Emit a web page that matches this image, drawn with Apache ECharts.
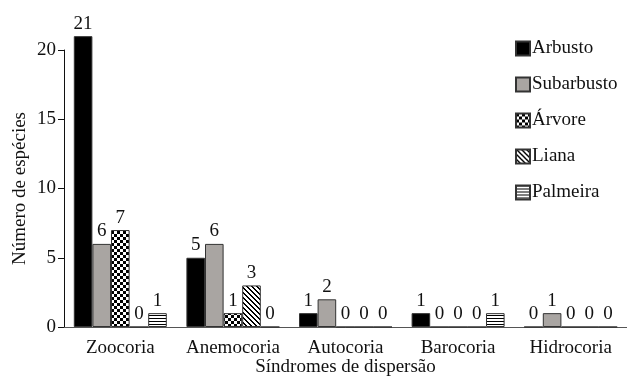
<!DOCTYPE html>
<html><head><meta charset="utf-8">
<script src="https://cdn.jsdelivr.net/npm/echarts@6/dist/echarts.min.js"></script>
<style>html,body{margin:0;padding:0;background:#fff}#c{width:627px;height:378px}</style>
</head><body><div id="c"></div>
<script>
const categories = ['Zoocoria', 'Anemocoria', 'Autocoria', 'Barocoria', 'Hidrocoria'];
const arbusto = [21, 5, 1, 1, 0];
const subarbusto = [6, 6, 2, 0, 1];
const arvore = [7, 1, 0, 0, 0];
const liana = [0, 3, 0, 0, 0];
const palmeira = [1, 0, 0, 1, 0];
const yTicks = [0, 5, 10, 15, 20];

function mk(w, h, draw) {
  const c = document.createElement('canvas'); c.width = w; c.height = h;
  const g = c.getContext('2d'); g.fillStyle = '#fff'; g.fillRect(0, 0, w, h); draw(g); return c;
}
const checker = mk(6, 6, g => { g.fillStyle = '#000'; g.fillRect(0,0,3,3); g.fillRect(3,3,3,3); });
const diag = mk(5, 5, g => { g.fillStyle = '#000';
  for (let i = -5; i < 10; i++) { for (let t = 0; t < 5; t++) { const x = t, y = t - i; if (y>=0&&y<5&&((i%5+5)%5)<2) g.fillRect(x, y, 1, 1); } } });
const horiz = mk(4, 3, g => { g.fillStyle = '#000'; g.fillRect(0, 0, 4, 1); });

const font = 'Liberation Serif';
const fs = 19;
const border = { borderColor: '#333', borderWidth: 1 };
function s(name, data, color) {
  return { name, type: 'bar', data, barWidth: 18.6, barGap: '0%', clip: false,
    itemStyle: Object.assign({ color }, border),
    label: { show: true, position: 'top', distance: 3, color: '#111', fontFamily: font, fontSize: fs } };
}
const chart = echarts.init(document.getElementById('c'));
chart.setOption({
  animation: false,
  textStyle: { fontFamily: font },
  grid: { left: 64, right: 0, top: 50, bottom: 51, containLabel: false, outerBoundsMode: 'none' },
  legend: { orient: 'vertical', left: 510, top: 34, itemWidth: 14, itemHeight: 14, itemGap: 17, icon: 'rect',
    textStyle: { fontFamily: font, fontSize: fs, color: '#111', padding: [0,0,0,-3] },
    data: ['Arbusto', 'Subarbusto', 'Árvore', 'Liana', 'Palmeira'] },
  xAxis: { type: 'category', data: categories, name: 'Síndromes de dispersão', nameLocation: 'middle', nameGap: 31,
    nameMoveOverlap: false,
    nameTextStyle: { fontFamily: font, fontSize: fs, color: '#111', verticalAlign: 'top' },
    axisLine: { lineStyle: { color: '#555', width: 1 } }, axisTick: { show: false },
    axisLabel: { interval: 0, fontFamily: font, fontSize: fs, color: '#111', margin: 12 } },
  yAxis: { type: 'value', min: 0, max: 20, interval: 5, name: 'Número de espécies', nameLocation: 'middle', nameGap: 34,
    nameMoveOverlap: false,
    nameTextStyle: { fontFamily: font, fontSize: fs, color: '#111' },
    splitLine: { show: false },
    axisLine: { show: true, lineStyle: { color: '#111', width: 1 } },
    axisTick: { show: true, length: 6, lineStyle: { color: '#111' } },
    axisLabel: { fontFamily: font, fontSize: fs, color: '#111', margin: 8,
      formatter: v => yTicks.includes(v) ? String(v) : '' } },
  series: [
    s('Arbusto', arbusto, '#000'),
    s('Subarbusto', subarbusto, '#a9a5a2'),
    s('Árvore', arvore, { image: checker, repeat: 'repeat' }),
    s('Liana', liana, { image: diag, repeat: 'repeat' }),
    s('Palmeira', palmeira, { image: horiz, repeat: 'repeat' })
  ]
});
</script></body></html>
